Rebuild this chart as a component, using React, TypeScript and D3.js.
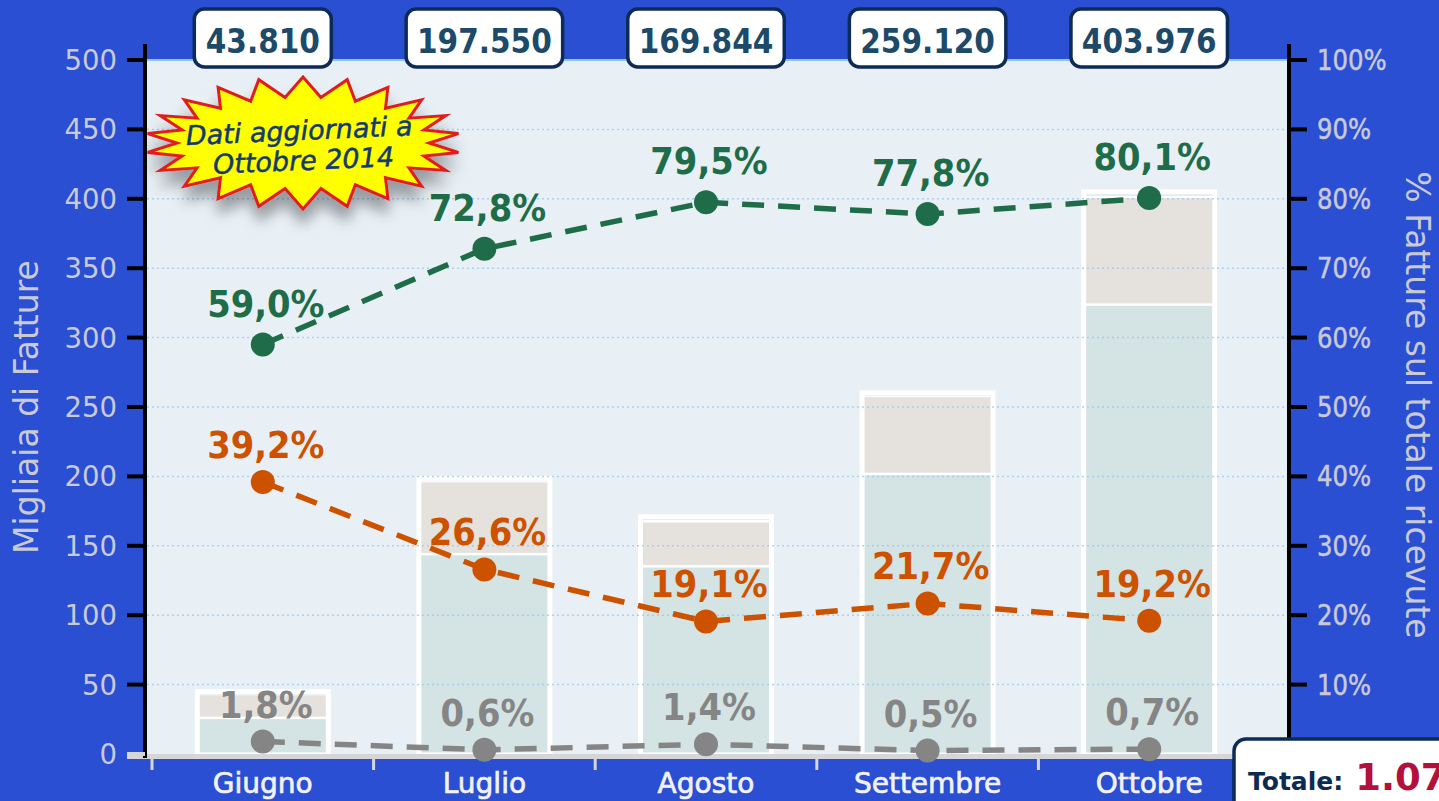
import React, { useEffect } from "react";
import * as d3 from "d3";

const months = ["Giugno", "Luglio", "Agosto", "Settembre", "Ottobre"];
const totals = [43.81, 197.55, 169.844, 259.12, 403.976];
const totalLabels = ["43.810", "197.550", "169.844", "259.120", "403.976"];
const pctGreen = [59.0, 72.8, 79.5, 77.8, 80.1];
const pctOrange = [39.2, 26.6, 19.1, 21.7, 19.2];
const pctGrey = [1.8, 0.6, 1.4, 0.5, 0.7];
const leftTicks = [0, 50, 100, 150, 200, 250, 300, 350, 400, 450, 500];
const rightTicks = [10, 20, 30, 40, 50, 60, 70, 80, 90, 100];
const grandTotal = "1.074.300";

const W = 1439;
const H = 801;
const BG = "#2a4fd3";
const AXIS_TXT = "#c9cad6";

const fmtPct = (v: number) => d3.format(".1f")(v).replace(".", ",") + "%";

function starPoints(cx: number, cy: number, n: number, rxo: number, ryo: number, rxi: number, ryi: number) {
  const pts: [number, number][] = [];
  for (let i = 0; i < n * 2; i++) {
    const a = (Math.PI * i) / n - Math.PI / 2;
    const outer = i % 2 === 0;
    const rx = outer ? rxo : rxi;
    const ry = outer ? ryo : ryi;
    pts.push([cx + rx * Math.cos(a), cy + ry * Math.sin(a)]);
  }
  return pts.map((p) => p.join(",")).join(" ");
}

export default function App() {
  useEffect(() => {
    document.body.style.margin = "0";
    document.body.style.overflow = "hidden";
  }, []);

  const plotL = 147, plotR = 1287, plotT = 60, plotB = 754;
  const y = d3.scaleLinear().domain([0, 500]).range([plotB, plotT]);
  const yp = d3.scaleLinear().domain([0, 100]).range([plotB, plotT]);
  const x = d3.scaleBand<string>().domain(months).range([152, 1260]).padding(0);
  const cx = (m: string) => (x(m) as number) + x.bandwidth() / 2;
  const barW = 136;

  const line = d3
    .line<[number, number]>()
    .x((d) => d[0])
    .y((d) => d[1]);

  const series = [
    { vals: pctGreen, color: "#1f6c48", off: 28 },
    { vals: pctOrange, color: "#cc5200", off: 24 },
    { vals: pctGrey, color: "#858585", off: 24 },
  ];

  return (
    <svg width={W} height={H} style={{ display: "block" }} xmlns="http://www.w3.org/2000/svg">
      <defs>
        <filter id="shadow" x="-30%" y="-30%" width="160%" height="180%">
          <feDropShadow dx="0" dy="14" stdDeviation="7" floodColor="#000" floodOpacity="0.35" />
        </filter>
      </defs>
      <rect x={0} y={0} width={W} height={H} fill={BG} />
      {/* plot area */}
      <rect x={plotL} y={plotT} width={plotR - plotL} height={plotB - plotT} fill="#e8f0f6" />
      <line x1={plotL} x2={plotR} y1={plotT} y2={plotT} stroke="#8fc4f0" strokeWidth={2} />

      {/* bars */}
      {months.map((m, i) => {
        const tot = totals[i];
        const g = (tot * pctGreen[i]) / 100;
        const o = (tot * pctOrange[i]) / 100;
        const x0 = cx(m) - barW / 2;
        const segs = [
          { a: 0, b: g, fill: "#d4e3e3" },
          { a: g, b: g + o, fill: "#e5e2de" },
          { a: g + o, b: tot, fill: "#dde5eb" },
        ];
        return (
          <g key={m}>
            <rect x={x0} y={y(tot) - 4} width={barW} height={plotB - y(tot) + 4} fill="#ffffff" />
            {segs.map((s, k) => (
              <rect
                key={k}
                x={x0 + 5}
                y={y(s.b) + 1}
                width={barW - 10}
                height={Math.max(0.5, y(s.a) - y(s.b) - 2.5)}
                fill={s.fill}
              />
            ))}
          </g>
        );
      })}

      {/* gridlines (drawn over bars, faint) */}
      {leftTicks.filter((t) => t > 0 && t < 500).map((t) => (
        <line key={t} x1={plotL} x2={plotR} y1={y(t)} y2={y(t)} stroke="#a3c9ee" strokeWidth={1.5} strokeDasharray="2 3" opacity={0.85} />
      ))}

      {/* x axis strip */}
      <rect x={127} y={plotB} width={plotR - 127} height={5} fill="#d6d6d8" />
      {months.map((m) => (
        <line key={m} x1={x(m) as number} x2={x(m) as number} y1={plotB} y2={plotB + 16} stroke="#d6d6d8" strokeWidth={3} />
      ))}
      <line x1={plotR} x2={plotR} y1={plotB} y2={plotB + 16} stroke="#d6d6d8" strokeWidth={3} />

      {/* left axis */}
      <line x1={145} x2={145} y1={44} y2={plotB + 4} stroke="#000" strokeWidth={4} />
      {leftTicks.map((t) => (
        <g key={t}>
          <line x1={127} x2={145} y1={y(t)} y2={y(t)} stroke={t === 0 ? "#d6d6d8" : "#000"} strokeWidth={4} />
          <text x={117} y={y(t) + 10} textAnchor="end" fontFamily="DejaVu Sans" fontSize={27.5} fill={AXIS_TXT}>
            {t}
          </text>
        </g>
      ))}
      <text
        transform={`translate(38,407) rotate(-90)`}
        textAnchor="middle"
        fontFamily="DejaVu Sans"
        fontSize={33}
        fill={AXIS_TXT}
      >
        Migliaia di Fatture
      </text>

      {/* right axis */}
      <line x1={1289} x2={1289} y1={44} y2={plotB} stroke="#000" strokeWidth={4} />
      {rightTicks.map((t) => (
        <g key={t}>
          <line x1={1289} x2={1307} y1={yp(t)} y2={yp(t)} stroke="#000" strokeWidth={4} />
          <text
            transform={`translate(1317,${yp(t) + 10}) scale(0.87,1)`}
            fontFamily="DejaVu Sans"
            fontSize={28}
            fill={AXIS_TXT}
            stroke={AXIS_TXT}
            strokeWidth={0.5}
          >
            {t}%
          </text>
        </g>
      ))}
      <text
        transform={`translate(1406,405) rotate(90)`}
        textAnchor="middle"
        fontFamily="DejaVu Sans"
        fontSize={33}
        fill={AXIS_TXT}
      >
        % Fatture sul totale ricevute
      </text>

      {/* x labels */}
      {months.map((m) => (
        <text
          key={m}
          x={cx(m)}
          y={793}
          textAnchor="middle"
          fontFamily="DejaVu Sans"
          fontSize={28}
          fill="#f2f2f6"
          stroke="#f2f2f6"
          strokeWidth={0.7}
        >
          {m}
        </text>
      ))}

      {/* lines */}
      {series.map((s, si) => {
        const pts = months.map((m, i) => [cx(m), yp(s.vals[i])] as [number, number]);
        return (
          <g key={si}>
            <path d={line(pts) as string} fill="none" stroke={s.color} strokeWidth={5.5} strokeDasharray="22 14" />
            {pts.map((p, i) => (
              <circle key={i} cx={p[0]} cy={p[1]} r={12} fill={s.color} />
            ))}
            {pts.map((p, i) => (
              <text
                key={"t" + i}
                transform={`translate(${p[0] + 3},${p[1] - s.off}) scale(0.89,1)`}
                textAnchor="middle"
                fontFamily="DejaVu Sans"
                fontWeight="bold"
                fontSize={38}
                fill={s.color}
              >
                {fmtPct(s.vals[i])}
              </text>
            ))}
          </g>
        );
      })}

      {/* top value boxes */}
      {months.map((m, i) => {
        const w = 20 + 19.5 * totalLabels[i].length;
        return (
          <g key={m}>
            <rect x={cx(m) - w / 2} y={9} width={w} height={58} rx={10} fill="#fff" stroke="#0d2b57" strokeWidth={3.5} />
            <text
              transform={`translate(${cx(m)},53) scale(0.87,1)`}
              textAnchor="middle"
              fontFamily="DejaVu Sans"
              fontWeight="bold"
              fontSize={34}
              fill="#1d4a68"
            >
              {totalLabels[i]}
            </text>
          </g>
        );
      })}

      {/* starburst */}
      <g filter="url(#shadow)">
        <polygon points={starPoints(303, 143, 22, 157, 66, 126, 46)} fill="#ffff00" stroke="#e01e1e" strokeWidth={3} strokeLinejoin="miter" />
      </g>
      <g transform="rotate(-2.5,303,150)" fontFamily="DejaVu Sans" fontStyle="italic" fontSize={27} fill="#143a6c" textAnchor="middle">
        <text x={300} y={140} stroke="#143a6c" strokeWidth={0.5}>Dati aggiornati a</text>
        <text x={303} y={170} stroke="#143a6c" strokeWidth={0.5}>Ottobre 2014</text>
      </g>

      {/* totale box */}
      <rect x={1234} y={739} width={300} height={100} rx={12} fill="#fff" stroke="#0d2b57" strokeWidth={3.5} />
      <text x={1248} y={790} fontFamily="DejaVu Sans" fontWeight="bold">
        <tspan fontSize={25} fill="#0e2a4e">Totale:</tspan>
        <tspan dx={12} fontSize={37} fill="#b3103c">{grandTotal}</tspan>
      </text>
    </svg>
  );
}
